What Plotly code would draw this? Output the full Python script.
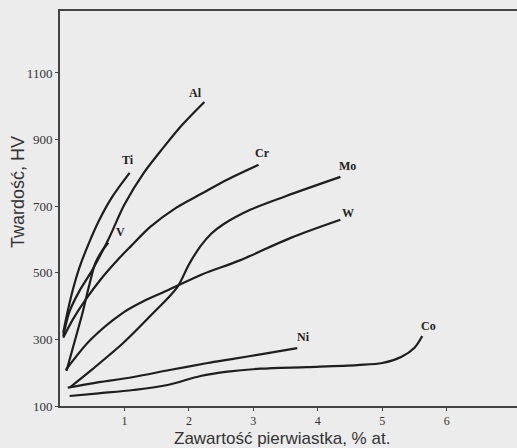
import plotly.graph_objects as go

# Hardness vs. alloying element content
ti_x = [0.05, 0.12, 0.2, 0.3, 0.45, 0.6, 0.8, 1.08]
ti_y = [320, 385, 450, 515, 590, 655, 725, 800]

al_x = [0.05, 0.15, 0.3, 0.5, 0.75, 1.0, 1.3, 1.6, 1.9, 2.24]
al_y = [310, 385, 445, 508, 600, 705, 800, 875, 945, 1013]

v_x = [0.1, 0.2, 0.35, 0.45, 0.55, 0.65, 0.75]
v_y = [205, 275, 380, 460, 530, 565, 590]

cr_x = [0.05, 0.2, 0.4, 0.63, 0.9, 1.1, 1.4, 1.8, 2.2, 2.6, 3.08]
cr_y = [305, 360, 420, 480, 540, 580, 638, 695, 738, 780, 824]

mo_x = [0.16, 0.5, 0.98, 1.4, 1.82, 2.0, 2.18, 2.35, 2.53, 2.95, 3.5, 4.35]
mo_y = [157, 210, 289, 370, 457, 525, 580, 618, 645, 689, 730, 788]

w_x = [0.09, 0.47, 0.97, 1.3, 1.68, 2.2, 2.8, 3.57, 4.35]
w_y = [208, 298, 379, 415, 448, 495, 538, 604, 659]

ni_x = [0.12, 0.5, 1.14, 1.7, 2.29, 2.64, 3.11, 3.68]
ni_y = [155, 168, 187, 208, 229, 240, 255, 274]

co_x = [0.15, 0.6, 1.14, 1.67, 2.18, 2.6, 3.11, 3.84, 4.61, 5.0, 5.3, 5.5, 5.62]
co_y = [130, 138, 148, 163, 190, 203, 212, 217, 223, 229, 248, 275, 310]

series = [
    ("Ti", ti_x, ti_y),
    ("Al", al_x, al_y),
    ("V", v_x, v_y),
    ("Cr", cr_x, cr_y),
    ("Mo", mo_x, mo_y),
    ("W", w_x, w_y),
    ("Ni", ni_x, ni_y),
    ("Co", co_x, co_y),
]

# curve name labels: element, x, y
label_names = ["Ti", "Al", "V", "Cr", "Mo", "W", "Ni", "Co"]
label_x = [1.05, 2.1, 0.94, 3.14, 4.46, 4.47, 3.78, 5.71]
label_y = [840, 1040, 622, 860, 821, 680, 307, 340]

x_ticks = [1, 2, 3, 4, 5, 6]
y_ticks = [100, 300, 500, 700, 900, 1100]

# plot area in page pixels
W, H = 517, 448
L, R, T, B = 60, 0, 11, 42
pw, ph = W - L - R, H - T - B

fig = go.Figure()
for name, xs, ys in series:
    fig.add_trace(go.Scatter(
        x=xs, y=ys, mode="lines", name=name,
        line=dict(color="#1e1e1e", width=2.2, shape="spline", smoothing=0.9),
        showlegend=False, hoverinfo="skip",
    ))

for name, lx, ly in zip(label_names, label_x, label_y):
    fig.add_annotation(
        x=lx, y=ly, text=f"<b>{name}</b>", showarrow=False,
        font=dict(family="Liberation Serif", size=12, color="#222"),
    )

# axis titles
fig.add_annotation(
    x=(282 - L) / pw, y=-(438 - (H - B)) / ph, xref="paper", yref="paper",
    xanchor="center", yanchor="middle",
    text="Zawartość pierwiastka, % at.", showarrow=False,
    font=dict(family="Liberation Sans", size=17, color="#333"),
)
fig.add_annotation(
    x=(18 - L) / pw, y=((H - B) - 192) / ph, xref="paper", yref="paper",
    xanchor="center", yanchor="middle", textangle=-90,
    text="Twardość, HV", showarrow=False,
    font=dict(family="Liberation Sans", size=18, color="#333"),
)

fig.update_layout(
    width=W, height=H,
    margin=dict(l=L, r=R, t=T, b=B),
    paper_bgcolor="#ececec", plot_bgcolor="#ececec",
    showlegend=False,
    xaxis=dict(
        range=[0, 7.09], tickvals=x_ticks, ticktext=[str(t) for t in x_ticks],
        showgrid=False, zeroline=False,
        showline=True, linecolor="#444", linewidth=2, mirror=True,
        ticks="outside", ticklen=3, tickcolor="#444",
        tickfont=dict(family="Liberation Serif", size=12, color="#333"),
    ),
    yaxis=dict(
        range=[100, 1286], tickvals=y_ticks, ticktext=[str(t) for t in y_ticks],
        showgrid=False, zeroline=False,
        showline=True, linecolor="#444", linewidth=2,
        ticks="outside", ticklen=3, tickcolor="#444",
        tickfont=dict(family="Liberation Serif", size=13, color="#333"),
    ),
)

fig.write_html("out.html")
